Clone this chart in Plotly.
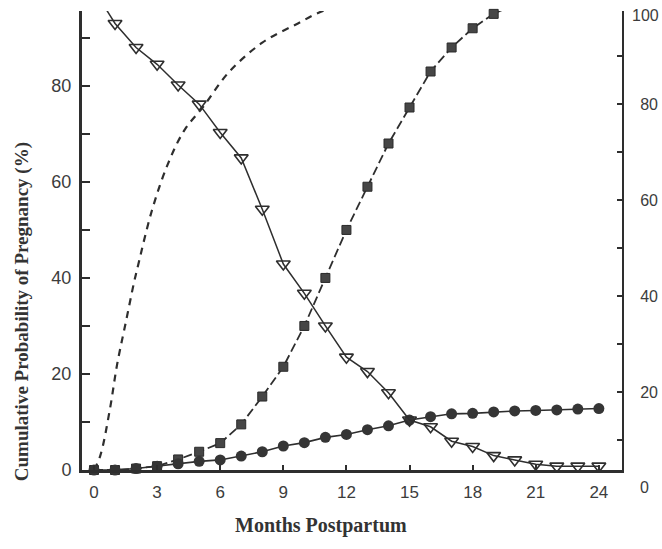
import plotly.graph_objects as go

# ---- data ----
months = list(range(0, 25))

# filled circles, solid line
circle_vals = [0, 0, 0.3, 0.8, 1.3, 1.8, 2.1, 2.9, 3.8, 5.0, 5.7, 6.8, 7.4,
               8.4, 9.2, 10.4, 11.1, 11.7, 11.8, 12.1, 12.3, 12.4, 12.5, 12.7, 12.8]

# filled squares, dashed line
square_vals = [0, 0, 0.3, 0.8, 2.2, 3.8, 5.6, 9.5, 15.3, 21.5, 30, 40, 50,
               59, 68, 75.5, 83, 88, 92, 95, 97, 98, 99, 99.5, 100]

# open down-triangles, solid line
triangle_vals = [100, 93, 88, 84.5, 80.2, 76.2, 70.3, 65, 54.3, 42.9, 36.8, 30, 23.5,
                 20.5, 16.1, 10.4, 9.0, 6.0, 4.9, 3.0, 2.1, 1.2, 0.8, 0.8, 0.8]

# dashed curve without markers
curve_x = [0, 0.3, 0.75, 1.1, 1.5, 1.9, 2.1, 2.75, 3.5, 4.3, 5.2, 6.4, 8.0, 9.6, 11.0, 12.0, 13.5, 15.0]
curve_y = [0, 3, 12.5, 22, 30.5, 39, 42.7, 54, 63.6, 70.8, 75.7, 82.8, 89, 92.8, 95.8, 96.5, 97.5, 98.5]

x_ticks = list(range(0, 25, 3))
y_ticks = list(range(0, 100, 10))
y_ticktext = [str(v) if v % 20 == 0 else "" for v in y_ticks]
y2_ticks = list(range(10, 100, 10))
y2_ticktext = [str(v) if v % 20 == 0 else "" for v in y2_ticks]

x_title = "Months Postpartum"
y_title = "Cumulative Probability of Pregnancy (%)"

INK = "#2e2e2e"
LABEL = "#3c3c3c"
SERIF = "Liberation Serif, Times New Roman, serif"

fig = go.Figure()

fig.add_trace(go.Scatter(
    x=curve_x, y=curve_y, mode="lines", line_shape="spline",
    line=dict(color=INK, width=2.2, dash="7px,6px"),
    showlegend=False, hoverinfo="skip"))

fig.add_trace(go.Scatter(
    x=months, y=square_vals, mode="lines+markers",
    line=dict(color=INK, width=1.8, dash="9px,4px"),
    marker=dict(symbol="square", size=9, color="#464646", line=dict(color="#2a2a2a", width=1)),
    cliponaxis=False, showlegend=False, hoverinfo="skip"))

fig.add_trace(go.Scatter(
    x=months, y=circle_vals, mode="lines+markers",
    line=dict(color=INK, width=1.6),
    marker=dict(symbol="circle", size=11, color="#353535"),
    cliponaxis=False, showlegend=False, hoverinfo="skip"))

fig.add_trace(go.Scatter(
    x=months, y=triangle_vals, mode="lines+markers",
    line=dict(color=INK, width=1.5),
    marker=dict(symbol="triangle-down-open", size=12, color=INK, line=dict(width=1.6)),
    showlegend=False, hoverinfo="skip"))

# helper trace so the right axis is drawn
fig.add_trace(go.Scatter(x=[0], y=[50], yaxis="y2", mode="markers",
                         marker=dict(opacity=0), showlegend=False, hoverinfo="skip"))

fig.update_layout(
    width=662, height=549,
    margin=dict(l=82, r=40, t=11, b=79, autoexpand=False),
    paper_bgcolor="white", plot_bgcolor="white",
    font=dict(family="Liberation Sans, Arial, sans-serif", color=LABEL),
    xaxis=dict(range=[-0.57, 25.1], tickvals=x_ticks, ticks="inside", ticklen=5,
               tickwidth=1.5, tickcolor=INK, showline=True, linecolor=INK, linewidth=2.5,
               showgrid=False, zeroline=False, tickfont=dict(size=17, color=LABEL),
               ticklabelstandoff=5, automargin=False),
    yaxis=dict(range=[0, 95.6], tickvals=y_ticks, ticktext=y_ticktext, ticks="inside",
               ticklen=8, tickwidth=1.5, tickcolor=INK, showline=True, linecolor=INK,
               linewidth=3, showgrid=False, zeroline=False,
               tickfont=dict(size=18, color=LABEL), ticklabelstandoff=4, automargin=False),
    yaxis2=dict(overlaying="y", side="right", range=[3.75, 99.4], tickvals=y2_ticks,
                ticktext=y2_ticktext, ticks="inside", ticklen=5, tickwidth=1.5,
                tickcolor=INK, showline=True, linecolor=INK, linewidth=2,
                showgrid=False, zeroline=False, tickfont=dict(size=16, color=LABEL),
                ticklabelstandoff=13, automargin=False),
    annotations=[
        dict(text="<b>" + x_title + "</b>", xref="paper", yref="paper", x=0.443, y=-0.12,
             xanchor="center", yanchor="middle", showarrow=False,
             font=dict(family=SERIF, size=20, color="#333333")),
        dict(text="<b>" + y_title + "</b>", xref="paper", yref="paper", x=-0.111, y=0.344,
             xanchor="center", yanchor="middle", textangle=-90, showarrow=False,
             font=dict(family=SERIF, size=19, color="#333333")),
        dict(text="0", xref="paper", yref="paper", x=1.0296, y=-0.039,
             xanchor="left", yanchor="middle", showarrow=False,
             font=dict(size=16, color=LABEL)),
        dict(text="100", xref="paper", yref="paper", x=1.0, y=0.99,
             xanchor="left", yanchor="middle", showarrow=False, xshift=8,
             font=dict(size=16, color=LABEL)),
    ],
)

fig.write_html("out.html", config={"displayModeBar": False},
               post_script="document.body.style.margin='0';document.body.style.overflow='hidden';")
